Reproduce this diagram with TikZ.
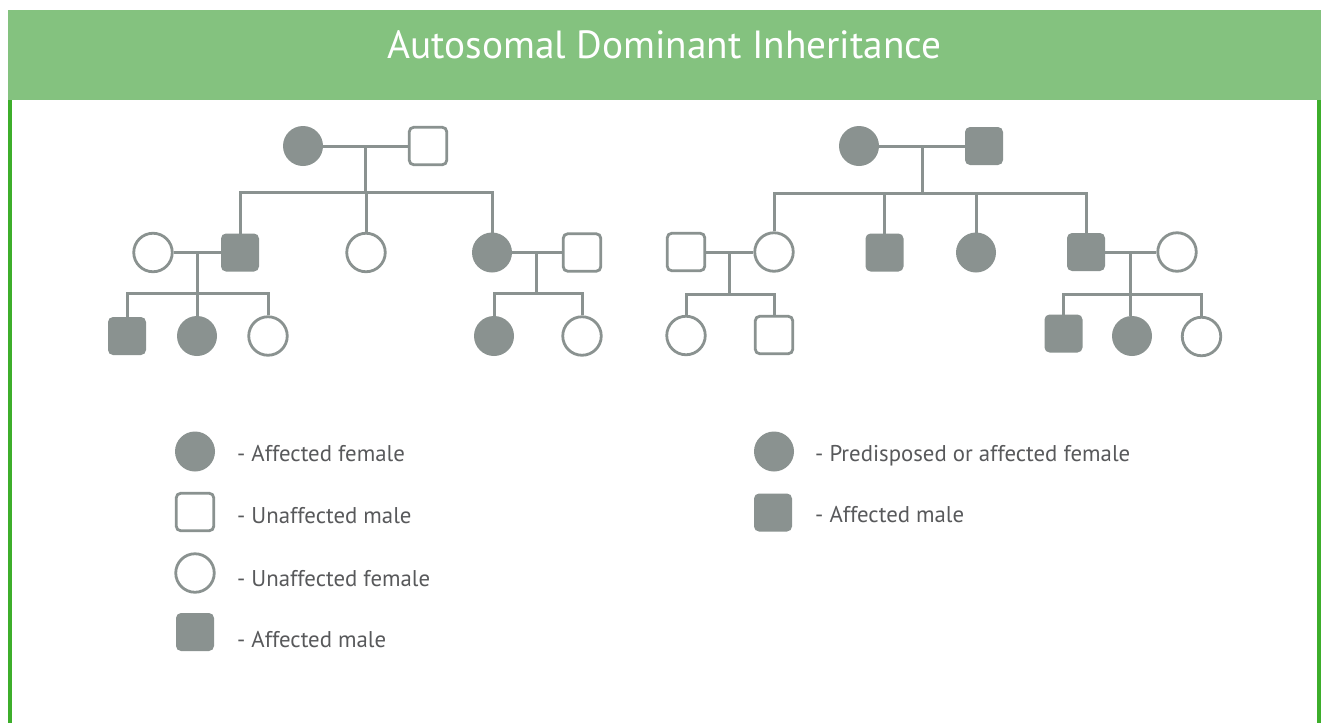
\documentclass[tikz,border=0pt]{standalone}
\usepackage{fontspec}
\setmainfont{PT Sans}
\usetikzlibrary{calc}
\definecolor{hdr}{HTML}{84C27F}
\definecolor{bar}{HTML}{3DAE2B}
\definecolor{pg}{HTML}{8A9290}
\definecolor{txt}{HTML}{58595B}
\tikzset{
  ff/.style={circle, fill=pg, minimum size=40pt, inner sep=0pt, outer sep=0pt},
  uf/.style={circle, draw=pg, fill=white, line width=2.8pt, minimum size=38.5pt, inner sep=0pt},
  fm/.style={rectangle, rounded corners=5pt, fill=pg, minimum size=38pt, inner sep=0pt, outer sep=0pt},
  um/.style={rectangle, rounded corners=4.5pt, draw=pg, fill=white, line width=2.8pt, minimum size=37.5pt, inner sep=0pt},
  link/.style={draw=pg, line width=3pt},
  lgd/.style={anchor=base west, text=txt, font=\fontsize{22.8}{27}\selectfont, inner sep=0pt},
}
\begin{document}
\begin{tikzpicture}[x=1pt,y=-1pt]
\useasboundingbox (0,0) rectangle (1321,723);
\fill[white] (0,0) rectangle (1321,723);
\fill[hdr] (8,10) rectangle (1321,100);
\fill[bar] (8,100) rectangle (12,723);
\fill[bar] (1317,100) rectangle (1321,723);
\node[text=white, font=\fontsize{39.3}{47}\selectfont, anchor=base, inner sep=0pt] (title) at (664.5,58.5) {Autosomal Dominant Inheritance};

% ---------- left pedigree ----------
\node[ff] (a1) at (303,146) {};
\node[um] (a2) at (428,146) {};
\node[uf] (b0) at (153,252.5) {};
\node[fm] (b1) at (240,252.5) {};
\node[uf] (b2) at (366,252.5) {};
\node[ff] (b3) at (492,252.5) {};
\node[um] (b4) at (582,252.5) {};
\node[fm] (c1) at (127,336) {};
\node[ff] (c2) at (197,336) {};
\node[uf] (c3) at (268,336) {};
\node[ff] (c4) at (494,336) {};
\node[uf] (c5) at (582,336) {};

\draw[link] (a1.east) -- (a2.west);
\coordinate (ma) at ($(a1.east)!0.5!(a2.west)$);
\coordinate (sa) at ($(ma)+(0,46.5)$);
\draw[link] (ma) -- (sa);
\draw[link] (b1.north) |- (sa) -| (b3.north);
\draw[link] (b2.north) -- (b2.north |- sa);

\draw[link] (b0.east) -- (b1.west);
\coordinate (mb) at ($(b0.east)!0.5!(b1.west)$);
\coordinate (sb) at ($(mb)+(0,41)$);
\draw[link] (mb) -- (mb |- c2.north);
\draw[link] (c1.north) |- (sb) -| (c3.north);

\draw[link] (b3.east) -- (b4.west);
\coordinate (mc) at ($(b3.east)!0.5!(b4.west)$);
\coordinate (sc) at ($(mc)+(0,41)$);
\draw[link] (mc) -- (sc);
\draw[link] (c4.north) |- (sc) -| (c5.north);

% ---------- right pedigree ----------
\node[ff] (d1) at (859,146) {};
\node[fm] (d2) at (984,146) {};
\node[um] (e0) at (686,252) {};
\node[uf] (e1) at (774,252) {};
\node[fm] (e2) at (884.5,252.5) {};
\node[ff] (e3) at (976,252.5) {};
\node[fm] (e4) at (1086,252) {};
\node[uf] (e5) at (1177,252) {};
\node[uf] (f1) at (686,335.5) {};
\node[um] (f2) at (774,335) {};
\node[fm] (g1) at (1063.5,333.5) {};
\node[ff] (g2) at (1132,336) {};
\node[uf] (g3) at (1201.5,336.5) {};

\draw[link] (d1.east) -- (d2.west);
\coordinate (md) at ($(d1.east)!0.5!(d2.west)$);
\coordinate (sd) at ($(md)+(0,47)$);
\draw[link] (md) -- (sd);
\draw[link] (e1.north) |- (sd) -| (e4.north);
\draw[link] (e2.north) -- (e2.north |- sd);
\draw[link] (e3.north) -- (e3.north |- sd);

\draw[link] (e0.east) -- (e1.west);
\coordinate (me) at ($(e0.east)!0.5!(e1.west)$);
\coordinate (se) at ($(me)+(0,42)$);
\draw[link] (me) -- (se);
\draw[link] (f1.north) |- (se) -| (f2.north);

\draw[link] (e4.east) -- (e5.west);
\coordinate (mf) at ($(e4.east)!0.5!(e5.west)$);
\coordinate (sf) at ($(mf)+(0,42)$);
\draw[link] (mf) -- (mf |- g2.north);
\draw[link] (g1.north) |- (sf) -| (g3.north);

% ---------- legends ----------
\node[ff] (l1) at (195,451.5) {};
\node[lgd] (t1) at (237,461) {- Affected female};
\node[um] (l2) at (195,512) {};
\node[lgd] (t2) at (237,523) {- Unaffected male};
\node[uf] (l3) at (195,573) {};
\node[lgd] (t3) at (237,586) {- Unaffected female};
\node[fm] (l4) at (195,632) {};
\node[lgd] (t4) at (237,647) {- Affected male};

\node[ff] (r1) at (774,451.5) {};
\node[lgd] (t5) at (815,461) {- Predisposed or affected female};
\node[fm] (r2) at (773,512.5) {};
\node[lgd] (t6) at (815,522) {- Affected male};
\end{tikzpicture}
\end{document}
